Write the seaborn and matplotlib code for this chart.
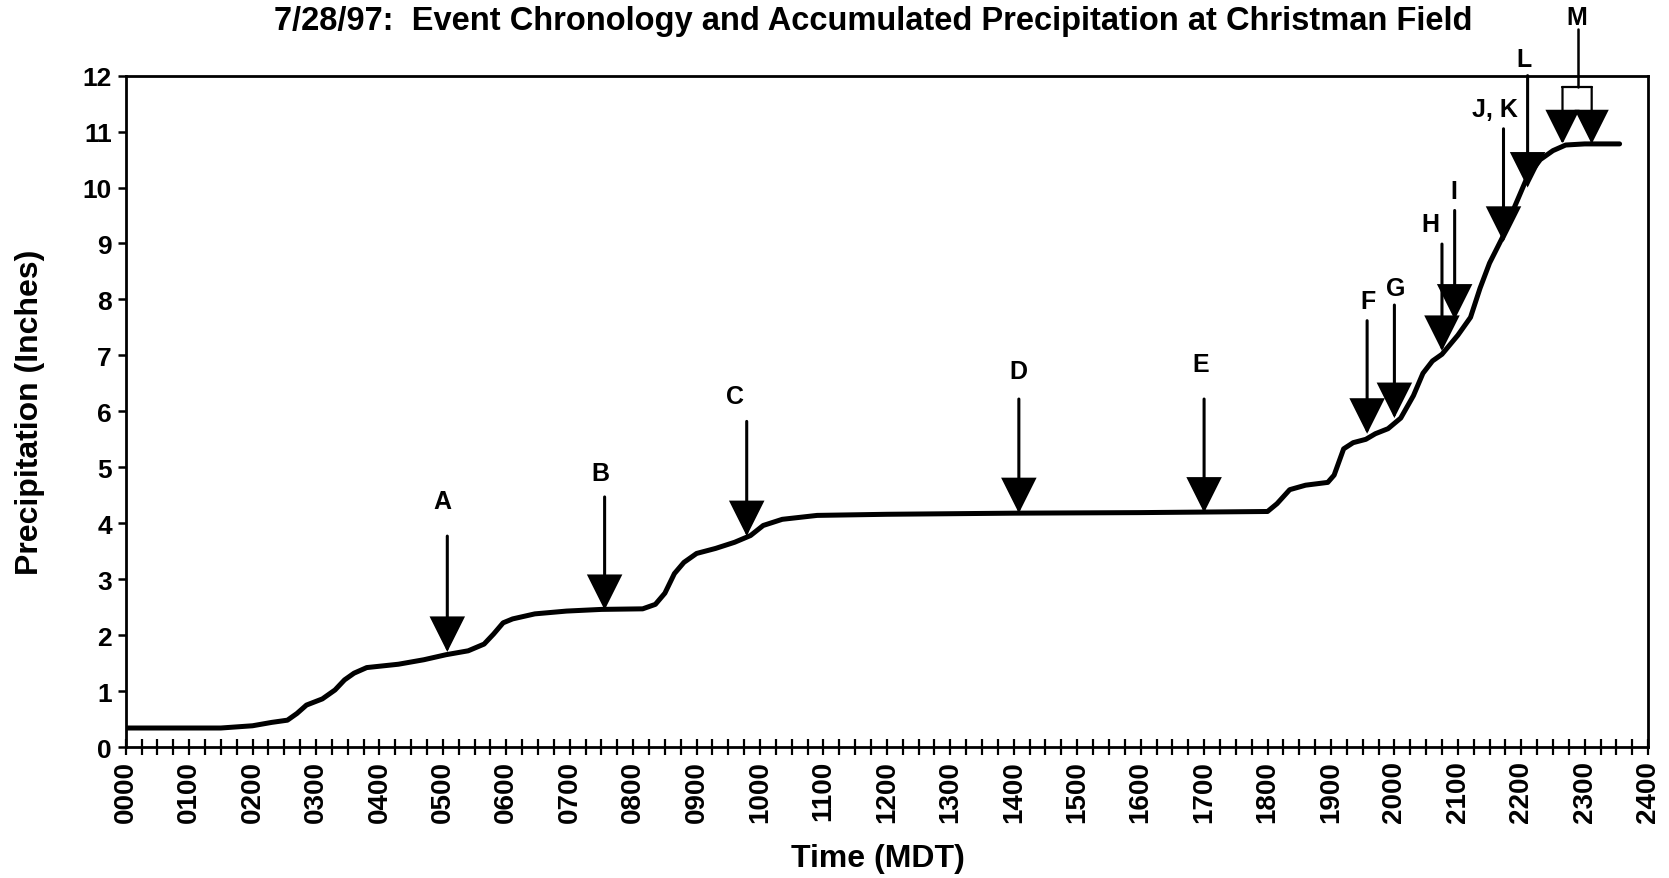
import matplotlib
matplotlib.use("Agg")
import matplotlib.pyplot as plt
import seaborn as sns
import pandas as pd
from matplotlib.ticker import FixedLocator, MultipleLocator

# Accumulated precipitation at Christman Field, 28 July 1997 (hour of day, inches)
hours = [0.0, 1.0, 1.5, 2.0, 2.3, 2.55, 2.7, 2.85, 3.1, 3.3, 3.45, 3.6, 3.8,
         4.3, 4.7, 5.05, 5.4, 5.65, 5.8, 5.95, 6.1, 6.45, 6.95, 7.5, 8.15,
         8.35, 8.5, 8.65, 8.8, 9.0, 9.3, 9.6, 9.85, 10.05, 10.35, 10.9, 12.0,
         14.0, 16.0, 18.0, 18.15, 18.35, 18.6, 18.95, 19.05, 19.2, 19.35,
         19.55, 19.7, 19.9, 20.1, 20.3, 20.45, 20.6, 20.75, 21.0, 21.2, 21.35,
         21.5, 21.7, 21.9, 22.1, 22.3, 22.5, 22.7, 23.0, 23.55]
precip = [0.34, 0.34, 0.34, 0.38, 0.44, 0.48, 0.60, 0.75, 0.86, 1.02, 1.20,
          1.32, 1.42, 1.48, 1.56, 1.65, 1.72, 1.84, 2.02, 2.22, 2.29, 2.38,
          2.43, 2.46, 2.47, 2.55, 2.75, 3.10, 3.30, 3.46, 3.55, 3.66, 3.78,
          3.96, 4.07, 4.14, 4.16, 4.18, 4.19, 4.21, 4.35, 4.60, 4.68, 4.73,
          4.86, 5.33, 5.44, 5.50, 5.60, 5.69, 5.88, 6.28, 6.68, 6.90, 7.02,
          7.36, 7.68, 8.20, 8.65, 9.10, 9.67, 10.20, 10.50, 10.66, 10.76,
          10.78, 10.78]

# Event chronology markers
event_names = ["A", "B", "C", "D", "E", "F", "G", "H", "I", "J, K", "L"]
event_times = [5.07, 7.55, 9.79, 14.08, 17.0, 19.57, 20.0, 20.75, 20.95, 21.72, 22.1]
event_tips = [1.70, 2.45, 3.77, 4.18, 4.19, 5.60, 5.88, 7.08, 7.64, 9.03, 10.0]
event_tops = [3.77, 4.47, 5.82, 6.22, 6.22, 7.62, 7.90, 8.99, 9.59, 11.05, 12.0]
label_times = [5.0, 7.48, 9.6, 14.08, 16.95, 19.59, 20.02, 20.57, 20.93, 21.58, 22.04]
label_levels = [4.4, 4.9, 6.27, 6.72, 6.85, 7.98, 8.2, 9.34, 9.94, 11.4, 12.3]

# Event M: a pair of arrows joined by a bracket
m_times = [22.65, 23.11]
m_tip = 10.78
m_bracket = 11.79
m_stem_top = 12.83
m_label_time = 22.88
m_label_level = 13.05

tick_hours = list(range(0, 25))
tick_labels = [f"{h:02d}00" for h in tick_hours]

sns.set_theme(style="ticks")
plt.rcParams["font.family"] = ["Liberation Sans", "DejaVu Sans"]
plt.rcParams["font.weight"] = "bold"
plt.rcParams["axes.edgecolor"] = "black"
plt.rcParams["axes.labelcolor"] = "black"
plt.rcParams["xtick.color"] = "black"
plt.rcParams["ytick.color"] = "black"
plt.rcParams["text.color"] = "black"

fig = plt.figure(figsize=(16.69, 8.79), dpi=100)
ax = fig.add_axes([0.0753, 0.149, 0.9122, 0.7638])

df = pd.DataFrame({"hour": hours, "precip": precip})
sns.lineplot(data=df, x="hour", y="precip", color="black", lw=3.6, ax=ax,
             sort=False, errorbar=None)

head = "-|>,head_length=2.2,head_width=1.1"
arrow_kw = dict(arrowstyle=head, mutation_scale=10, lw=2.2, color="black",
                shrinkA=0, shrinkB=0, joinstyle="miter")
for t, tip, top in zip(event_times, event_tips, event_tops):
    ax.annotate("", xy=(t, tip), xytext=(t, top), arrowprops=arrow_kw,
                annotation_clip=False)
for name, t, lv in zip(event_names, label_times, label_levels):
    ax.text(t, lv, name, ha="center", va="center", fontsize=18,
            fontweight="bold", clip_on=False)

# bracket for event M
for t in m_times:
    ax.annotate("", xy=(t, m_tip), xytext=(t, m_bracket),
                arrowprops=dict(arrow_kw, lw=1.6), annotation_clip=False)
ax.plot(m_times, [m_bracket, m_bracket], color="black", lw=1.6, clip_on=False)
ax.plot([m_label_time + 0.02, m_label_time + 0.02], [m_stem_top, m_bracket],
        color="black", lw=1.8, clip_on=False)
ax.text(m_label_time, m_label_level, "M", ha="center", va="center",
        fontsize=18, fontweight="bold", clip_on=False)

ax.set_xlim(0, 24)
ax.set_ylim(0, 12)
ax.xaxis.set_major_locator(FixedLocator(tick_hours))
ax.xaxis.set_minor_locator(MultipleLocator(0.25))
ax.set_xticklabels(tick_labels, rotation=90, fontsize=20, fontweight="bold")
ax.yaxis.set_major_locator(MultipleLocator(1))
ax.tick_params(axis="x", which="both", direction="inout", length=11,
               width=1.6, pad=4)
ax.tick_params(axis="y", direction="out", length=6, width=1.8, pad=4,
               labelsize=19)
for lab in ax.get_yticklabels():
    lab.set_fontweight("bold")
for sp in ax.spines.values():
    sp.set_visible(True)
    sp.set_linewidth(2.0)
    sp.set_color("black")

ax.set_xlabel("Time (MDT)", fontsize=23, fontweight="bold")
ax.xaxis.set_label_coords(0.494, -0.143)
ax.set_ylabel("Precipitation (Inches)", fontsize=23, fontweight="bold")
ax.yaxis.set_label_coords(-0.053, 0.5)

fig.text(0.523, 0.976,
         "7/28/97:  Event Chronology and Accumulated Precipitation at Christman Field",
         ha="center", va="center", fontsize=23.5, fontweight="bold")

fig.savefig("out.png", dpi=100)
